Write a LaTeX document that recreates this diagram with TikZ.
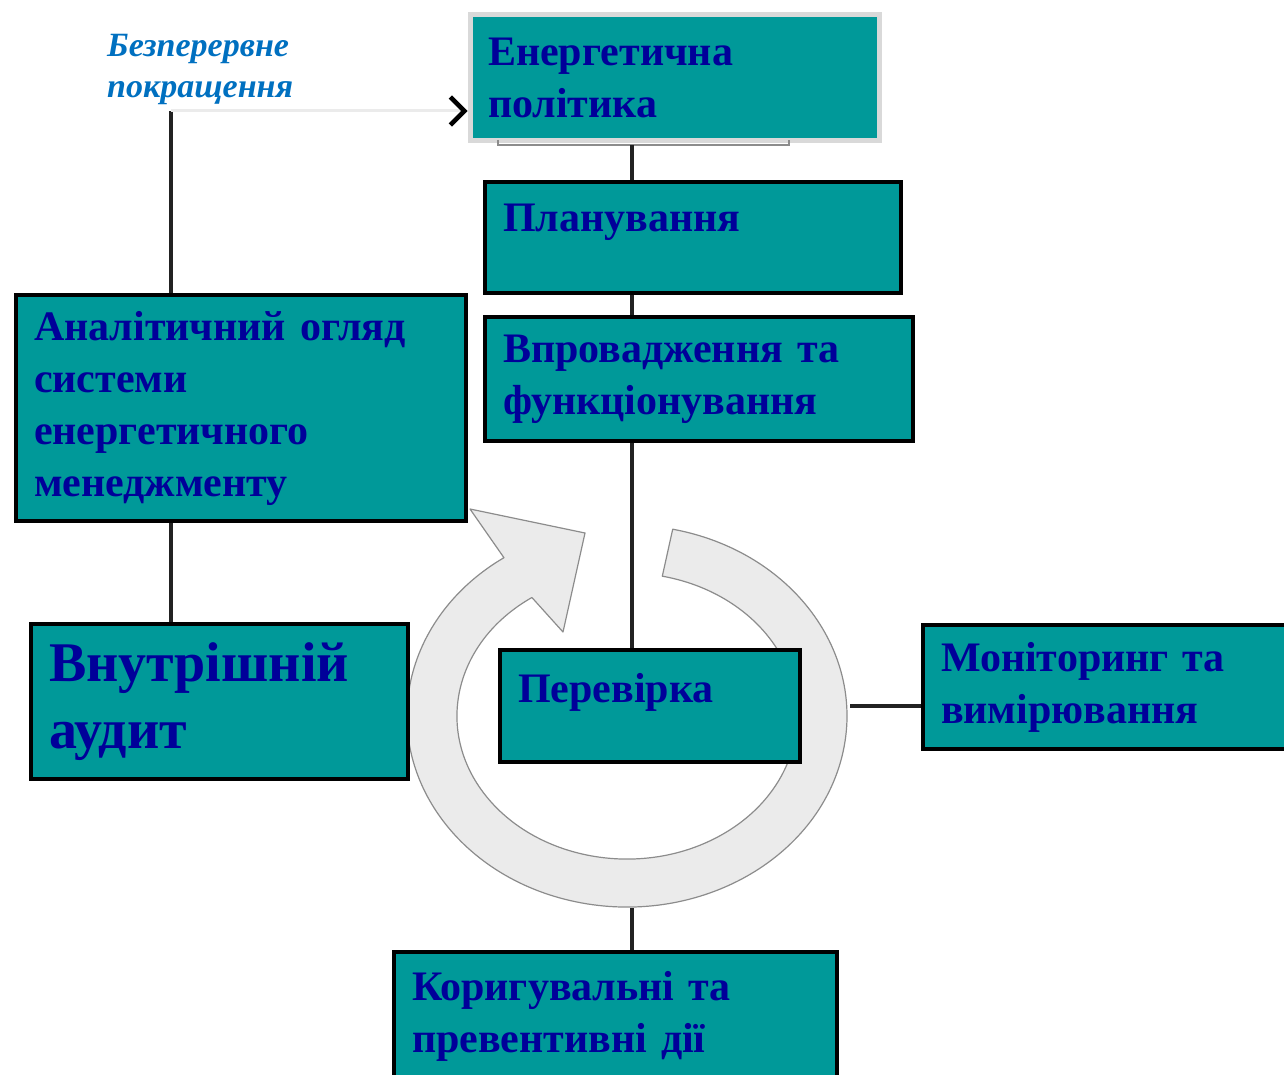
\documentclass[tikz,border=0pt]{standalone}
\usepackage{fontspec}
\setmainfont{Liberation Serif}
\usepackage{tikz}
\usetikzlibrary{arrows.meta}
\definecolor{tealfill}{HTML}{009999}
\definecolor{boxtext}{HTML}{000099}
\definecolor{titleblue}{HTML}{0070C0}
\definecolor{ringfill}{HTML}{EBEBEB}
\definecolor{ringedge}{HTML}{8C8C8C}
\definecolor{framegray}{HTML}{D9D9D9}
\definecolor{linkblack}{HTML}{222222}
\begin{document}
\begin{tikzpicture}[x=1pt, y=-1pt,
  box/.style={draw=black, line width=4pt, fill=tealfill, text=boxtext, anchor=north west, align=left, inner xsep=18pt, inner ysep=0pt, font=\bfseries\fontsize{42pt}{52pt}\selectfont},
  pbox/.style={box, draw=framegray, line width=5pt},
  bigbox/.style={box, font=\bfseries\fontsize{56pt}{67pt}\selectfont},
  link/.style={line width=4pt, draw=linkblack},
  faint/.style={line width=3pt, draw=black!8},
  ring/.style={fill=ringfill, draw=ringedge, line width=1.2pt, line join=round}
]
  \useasboundingbox (0,0) rectangle (1284,1075);
  % cycle arrow
  \draw[ring] (672.7,529.2) arc[start angle=78, end angle=-236, x radius=220pt, y radius=191pt]
    -- (470,509) -- (585,533) -- (563,632) -- (531.9,597.5)
    arc[start angle=-236, end angle=78, x radius=170pt, y radius=143pt] -- cycle;
  \coordinate (spine) at (632,0);
  \coordinate (corner) at (171,111);
  \coordinate (brk) at (632,145);
  \coordinate (ringR) at (850,706);
  \coordinate (ringB) at (632,908);
  % boxes
  \node[pbox, minimum width=409pt, minimum height=126pt, text width=373pt] (policy) at (467.5,12.5) {Енергетична\\політика};
  \node[box, minimum width=416pt, minimum height=111pt, text width=380pt, text depth=39pt] (plan) at (483,180) {Планування};
  \node[box, minimum width=428pt, minimum height=124pt, text width=392pt] (impl) at (483,315) {Впровадження та\\функціонування};
  \node[box, minimum width=300pt, minimum height=112pt, text width=264pt, text depth=37pt] (check) at (498,648) {Перевірка};
  \node[box, minimum width=450pt, minimum height=226pt, text width=414pt] (review) at (14,293) {Аналітичний огляд\\системи\\енергетичного\\менеджменту};
  \node[bigbox, minimum width=377pt, minimum height=155pt, text width=341pt] (audit) at (29,622) {Внутрішній\\аудит};
  \node[box, minimum width=380pt, minimum height=124pt, text width=344pt] (monitor) at (921,623) {Моніторинг та\\вимірювання};
  \node[box, minimum width=443pt, minimum height=128pt, text width=407pt] (correct) at (392,950) {Коригувальні та\\превентивні дії};
  \node[anchor=base west, inner sep=0pt, text width=240pt, align=left, text=titleblue, font=\bfseries\itshape\fontsize{34pt}{41pt}\selectfont] (title) at (107,57) {Безперервне\\покращення};
  % connectors
  \draw[ringedge, line width=2.5pt] (498,140) -- (498,145) -- (789,145) -- (789,140);
  \draw[link] (brk) -- (plan.north -| spine);
  \draw[link] (plan.south -| spine) -- (impl.north -| spine);
  \draw[link] (impl.south -| spine) -- (check.north -| spine);
  \draw[link] (ringB) -- (correct.north -| spine);
  \draw[link] (ringR) -- (ringR -| monitor.west);
  \draw[link] (review.north -| corner) -- (corner);
  \draw[link] (review.south -| corner) -- (audit.north -| corner);
  \draw[faint, -{Straight Barb[color=black, length=14pt, width=28pt, line width=4.5pt]}] (corner) -- (corner -| policy.west);
\end{tikzpicture}
\end{document}
